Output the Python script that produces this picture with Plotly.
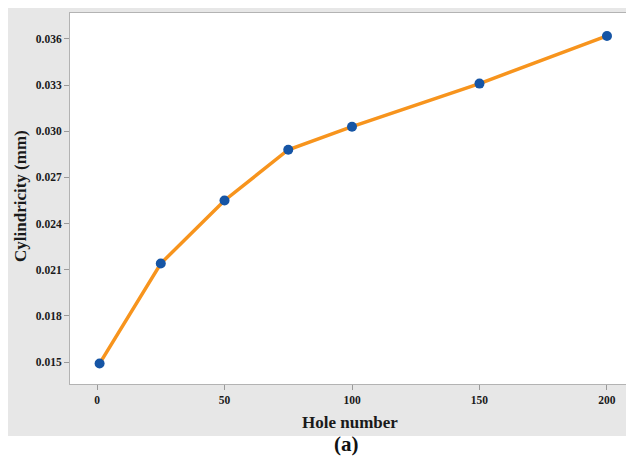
import plotly.graph_objects as go

hole_number = [1, 25, 50, 75, 100, 150, 200]
cylindricity = [0.0149, 0.0214, 0.0255, 0.0288, 0.0303, 0.0331, 0.0362]
x_ticks = [0, 50, 100, 150, 200]
y_ticks = [0.015, 0.018, 0.021, 0.024, 0.027, 0.030, 0.033, 0.036]

# page has an 8px body margin; work in page coords and subtract it
OFF = 8
W, H = 634 - OFF, 458 - OFF
L, R, T, B = 70 - OFF, 0, 13 - OFF, 458 - 384
pw, ph = W - L - R, H - T - B

def px(xp):  # page x -> paper
    return (xp - OFF - L) / pw

def py(yp):  # page y -> paper
    return (H - B - (yp - OFF)) / ph

GRAY = "#e7e7e7"
FONT = "Liberation Serif"

fig = go.Figure()
fig.add_trace(go.Scatter(
    x=hole_number, y=cylindricity, mode="lines+markers",
    line=dict(color="#f7941d", width=3.5),
    marker=dict(color="#1655a5", size=10),
    showlegend=False,
))

axis_common = dict(
    showline=True, linecolor="#b3b3b3", linewidth=1, mirror=True,
    showgrid=False, zeroline=False,
    ticks="outside", ticklen=5, tickcolor="#9a9a9a", tickwidth=1,
    tickfont=dict(family=FONT, size=11.5, color="#1a1a1a", weight="bold"),
)

fig.update_xaxes(range=[-10.6, 210.6], tickvals=x_ticks,
                 ticktext=[str(v) for v in x_ticks], **axis_common)
fig.update_yaxes(range=[0.01357, 0.03769], tickvals=y_ticks,
                 ticktext=[f"{v:.3f}" for v in y_ticks], **axis_common)

shapes = [
    # white strip below the gray panel
    dict(type="rect", xref="paper", yref="paper", x0=px(0), x1=px(650), y0=py(470), y1=py(436),
         fillcolor="white", line_width=0, layer="above"),
]

annotations = [
    dict(text="<b>Cylindricity (mm)</b>", xref="paper", yref="paper",
         x=px(20), y=py(196), textangle=-90, showarrow=False,
         font=dict(family=FONT, size=17, color="#1a1a1a"), xanchor="center", yanchor="middle"),
    dict(text="<b>Hole number</b>", xref="paper", yref="paper",
         x=px(350), y=py(422), showarrow=False,
         font=dict(family=FONT, size=17, color="#1a1a1a"), xanchor="center", yanchor="middle"),
    dict(text="<b>(a)</b>", xref="paper", yref="paper",
         x=px(346), y=py(444), showarrow=False,
         font=dict(family=FONT, size=21, color="#111111"), xanchor="center", yanchor="middle"),
]

fig.update_layout(
    width=W, height=H,
    margin=dict(l=L, r=R, t=T, b=B),
    paper_bgcolor=GRAY, plot_bgcolor="white",
    shapes=shapes, annotations=annotations,
)

fig.write_html("out.html")
